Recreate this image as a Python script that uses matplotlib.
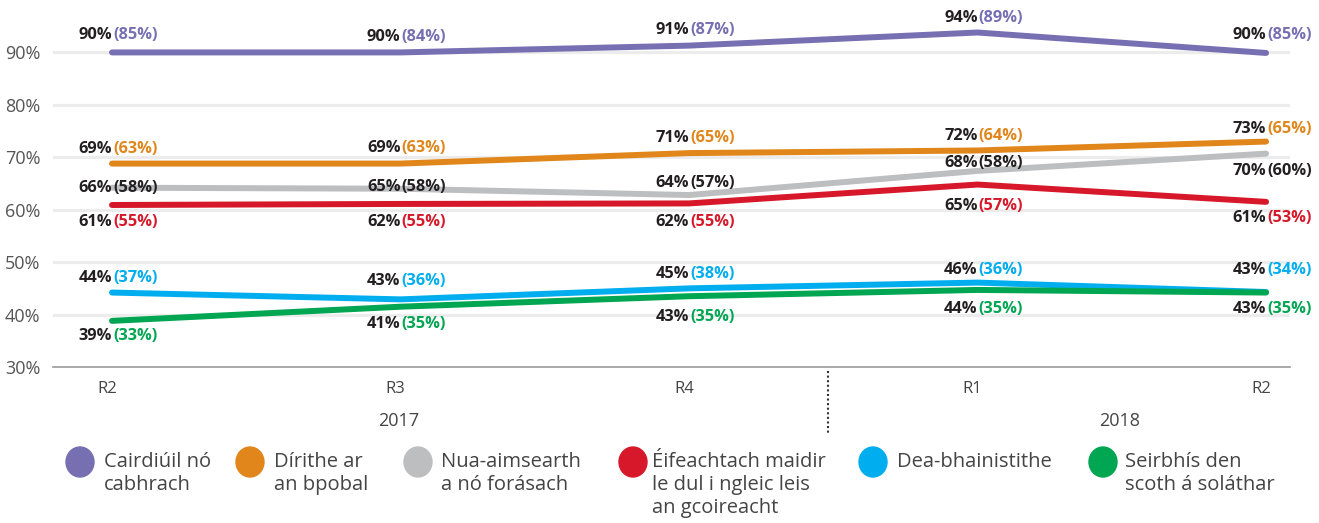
import matplotlib.pyplot as plt
from matplotlib.patches import Ellipse
import matplotlib.transforms as mtransforms

plt.rcParams['font.family'] = ['Open Sans', 'DejaVu Sans']

quarters = ['R2', 'R3', 'R4', 'R1', 'R2']
years = ['2017', '2018']

names = ['Cairdiúil nó\ncabhrach', 'Dírithe ar\nan bpobal', 'Nua-aimsearth\na nó forásach',
         'Éifeachtach maidir\nle dul i ngleic leis\nan gcoireacht', 'Dea-bhainistithe',
         'Seirbhís den\nscoth á soláthar']

# line values (as drawn) and labels: main value and value in brackets
purple = [90.0, 90.0, 91.3, 93.8, 89.9]
orange = [68.8, 68.8, 70.8, 71.3, 73.0]
grey = [64.2, 64.0, 62.8, 67.4, 70.7]
red = [60.9, 61.1, 61.2, 64.8, 61.5]
blue = [44.2, 42.9, 45.0, 46.1, 44.3]
green = [38.8, 41.5, 43.5, 44.7, 44.2]

purple_lab = [90, 90, 91, 94, 90]
purple_br = [85, 84, 87, 89, 85]
orange_lab = [69, 69, 71, 72, 73]
orange_br = [63, 63, 65, 64, 65]
grey_lab = [66, 65, 64, 68, 70]
grey_br = [58, 58, 57, 58, 60]
red_lab = [61, 62, 62, 65, 61]
red_br = [55, 55, 55, 57, 53]
blue_lab = [44, 43, 45, 46, 43]
blue_br = [37, 36, 38, 36, 34]
green_lab = [39, 41, 43, 44, 43]
green_br = [33, 35, 35, 35, 35]

colors = ['#7670b3', '#e0861a', '#bcbec0', '#d7182a', '#00aeef', '#00a651']
dark = '#231f20'

# label vertical offsets in pixels (+ up)
offs = [[17, 15, 16, 15, 18],
        [15, 16, 15, 14, 13],
        [0, 2, 12, 8, -17],
        [-17, -18, -19, -21, -16],
        [15, 18, 14, 13, 22],
        [-15, -17, -21, -19, -16]]

series = [purple, orange, grey, red, blue, green]
labs = [purple_lab, orange_lab, grey_lab, red_lab, blue_lab, green_lab]
brs = [purple_br, orange_br, grey_br, red_br, blue_br, green_br]
br_colors = [colors[0], colors[1], dark, colors[3], colors[4], colors[5]]
zorders = [3, 4, 3.5, 4.5, 5, 5.5]

fig = plt.figure(figsize=(13.19, 5.23), dpi=100)
ax = fig.add_axes([53 / 1319, 156 / 523, 1237 / 1319, 367 / 523])

x = list(range(len(quarters)))
for s, c, z in zip(series, colors, zorders):
    ax.plot(x, s, color=c, lw=4.3, solid_capstyle='round', solid_joinstyle='round', zorder=z)

for s, lab, br, bc, off in zip(series, labs, brs, br_colors, offs):
    for i in x:
        ax.annotate(f'{lab[i]}%', (i, s[i]), xytext=(0, off[i]), textcoords='offset pixels',
                    ha='right', va='center', fontsize=11.8, fontweight='bold', color=dark, zorder=10)
        ax.annotate(f'({br[i]}%)', (i, s[i]), xytext=(1, off[i]), textcoords='offset pixels',
                    ha='left', va='center', fontsize=11.8, fontweight='bold', color=bc, zorder=10)

ax.set_xlim(-0.2045, 4.083)
ax.set_ylim(30, 100)
ax.set_yticks([30, 40, 50, 60, 70, 80, 90])
ax.set_yticklabels([f'{v}%' for v in range(30, 100, 10)], fontsize=13, color='#555555')
ax.set_xticks(x)
ax.set_xticklabels([])
ax.tick_params(length=0)
ax.tick_params(axis='y', pad=9)
for sp in ['top', 'right', 'left']:
    ax.spines[sp].set_visible(False)
ax.spines['bottom'].set_color('#9a9a9a')
ax.spines['bottom'].set_linewidth(1.2)
for v in [40, 50, 60, 70, 80, 90]:
    ax.axhline(v, color='#ececec', lw=2.3, zorder=1)

trans = mtransforms.blended_transform_factory(ax.transData, ax.transAxes)
for i, q in zip(x, quarters):
    ax.annotate(q, (i, 0), xycoords=trans, xytext=(-5, -22), textcoords='offset pixels',
                ha='center', va='center', fontsize=12, color='#444444')
ax.plot([2.48, 2.48], [-0.01, -0.18], transform=trans, color='#333333', lw=1.5,
        ls=(0, (1, 1.2)), clip_on=False)
for xp, yr in zip([1, 3.5], years):
    ax.annotate(yr, (xp, 0), xycoords=trans, xytext=(-2, -54), textcoords='offset pixels',
                ha='center', va='center', fontsize=13, color='#444444')

# legend
circ_x = [80, 250, 418, 633, 873, 1103]
text_x = [104, 274, 441, 652, 897, 1125]
for cx, tx, c, n in zip(circ_x, text_x, colors, names):
    fig.patches.append(Ellipse((cx / 1319, 1 - 462 / 523), 28 / 1319, 30 / 523,
                               transform=fig.transFigure, color=c))
    fig.text(tx / 1319, 1 - 452 / 523, n, ha='left', va='top', fontsize=14.5,
             color='#444444', linespacing=1.2)

fig.savefig('out.png', dpi=100)
